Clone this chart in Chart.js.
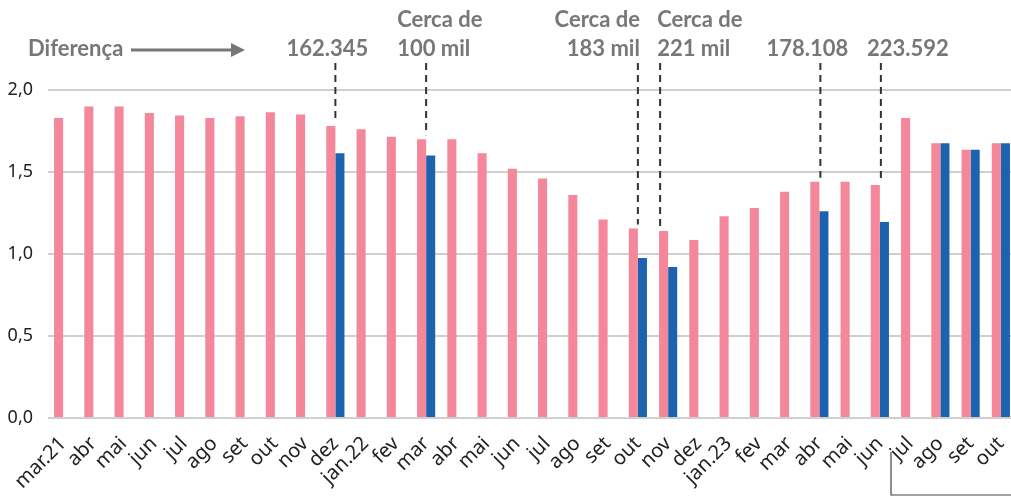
<!DOCTYPE html>
<html>
<head>
<meta charset="utf-8">
<script src="https://cdn.jsdelivr.net/npm/chart.js@4.4.0/dist/chart.umd.min.js"></script>
<style>
  body { margin: 0; overflow: hidden; background: #fff; }
</style>
</head>
<body>
<canvas id="myChart" width="1016" height="496"></canvas>
<script>
const meses = ['mar.21', 'abr', 'mai', 'jun', 'jul', 'ago', 'set', 'out', 'nov', 'dez',
    'jan.22', 'fev', 'mar', 'abr', 'mai', 'jun', 'jul', 'ago', 'set', 'out', 'nov', 'dez',
    'jan.23', 'fev', 'mar', 'abr', 'mai', 'jun', 'jul', 'ago', 'set', 'out'];
const serieRosa = [1.83, 1.90, 1.90, 1.86, 1.845, 1.83, 1.84, 1.865, 1.85, 1.78,
    1.76, 1.715, 1.70, 1.70, 1.615, 1.52, 1.46, 1.36, 1.21, 1.155, 1.14, 1.085,
    1.23, 1.28, 1.38, 1.44, 1.44, 1.42, 1.83, 1.675, 1.635, 1.675];
const serieAzul = [null, null, null, null, null, null, null, null, null, 1.615,
    null, null, 1.60, null, null, null, null, null, null, 0.975, 0.92, null,
    null, null, null, 1.26, null, 1.195, null, 1.675, 1.635, 1.675];
const ticksY = [0, 0.5, 1, 1.5, 2];

// notas de diferença: índice do mês, texto, deslocamento da linha e do texto
const notas = [
    { i: 9, linhas: ['162.345'], dx: 0, tx: -8, align: 'center' },
    { i: 12, linhas: ['Cerca de', '100 mil'], dx: 0, tx: -29, align: 'left' },
    { i: 19, linhas: ['Cerca de', '183 mil'], dx: 0, tx: 2, align: 'right' },
    { i: 20, linhas: ['Cerca de', '221 mil'], dx: -8, tx: -11, align: 'left' },
    { i: 25, linhas: ['178.108'], dx: 1, tx: -12, align: 'center' },
    { i: 27, linhas: ['223.592'], dx: 1, tx: 28, align: 'center' }
];

const cinza = '#777';
const fonteNota = 'bold 22px Lato, "Open Sans", sans-serif';

const anotacoes = {
    id: 'anotacoes',
    afterDraw(chart) {
        const c = chart.ctx;
        const x = chart.scales.x;
        const y = chart.scales.y;
        c.save();
        c.font = fonteNota;
        c.fillStyle = cinza;
        c.textBaseline = 'middle';

        // "Diferença" + seta
        c.textAlign = 'left';
        c.fillText('Diferença', 28, 49);
        c.strokeStyle = cinza;
        c.lineWidth = 3;
        c.beginPath();
        c.moveTo(131, 50);
        c.lineTo(232, 50);
        c.stroke();
        c.beginPath();
        c.moveTo(245, 50);
        c.lineTo(231, 43);
        c.lineTo(231, 57);
        c.closePath();
        c.fill();

        notas.forEach(n => {
            const cx = x.getPixelForValue(n.i);
            const lx = cx + n.dx;
            const topo = y.getPixelForValue(serieRosa[n.i]) - 4;
            c.strokeStyle = '#333';
            c.lineWidth = 2;
            c.setLineDash([7, 5]);
            c.beginPath();
            c.moveTo(lx, 63);
            c.lineTo(lx, topo);
            c.stroke();
            c.setLineDash([]);
            c.textAlign = n.align;
            const ys = n.linhas.length === 2 ? [20, 49] : [49];
            n.linhas.forEach((t, k) => c.fillText(t, cx + n.tx, ys[k]));
        });

        // colchete no rodapé
        const bx = (x.getPixelForValue(27) + x.getPixelForValue(28)) / 2 - 4;
        c.strokeStyle = '#444';
        c.lineWidth = 1.2;
        c.beginPath();
        c.moveTo(bx, 452);
        c.lineTo(bx, 495);
        c.lineTo(1016, 495);
        c.stroke();
        c.restore();
    }
};

new Chart(document.getElementById('myChart'), {
    type: 'bar',
    data: {
        labels: meses,
        datasets: [{
            data: serieRosa,
            backgroundColor: '#f48799',
            borderWidth: 0,
            categoryPercentage: 0.6,
            barPercentage: 1
        }, {
            data: serieAzul,
            backgroundColor: '#1b63ae',
            borderWidth: 0,
            categoryPercentage: 0.6,
            barPercentage: 1
        }]
    },
    options: {
        responsive: false,
        animation: false,
        devicePixelRatio: 1,
        layout: { padding: { top: 90, right: 0, left: 0, bottom: 0 } },
        plugins: {
            legend: { display: false },
            tooltip: { enabled: false }
        },
        scales: {
            x: {
                grid: { display: false },
                border: { display: false },
                ticks: {
                    color: '#222',
                    font: { size: 20, family: '"Noto Sans", sans-serif' },
                    minRotation: 45,
                    maxRotation: 45,
                    autoSkip: false,
                    padding: 6
                },
                afterFit(s) {
                    s.height = 78;
                    s.paddingLeft = 0;
                    s.paddingRight = 0;
                }
            },
            y: {
                min: 0,
                max: 2,
                afterBuildTicks(s) { s.ticks = ticksY.map(v => ({ value: v })); },
                grid: { color: '#cfcfcf', lineWidth: 2, drawTicks: false },
                border: { display: false },
                ticks: {
                    color: '#222',
                    font: { size: 18, family: '"Noto Sans", sans-serif' },
                    padding: 15,
                    callback: v => v.toFixed(1).replace('.', ',')
                },
                afterFit(s) { s.width = 48; }
            }
        }
    },
    plugins: [anotacoes]
});
</script>
</body>
</html>
